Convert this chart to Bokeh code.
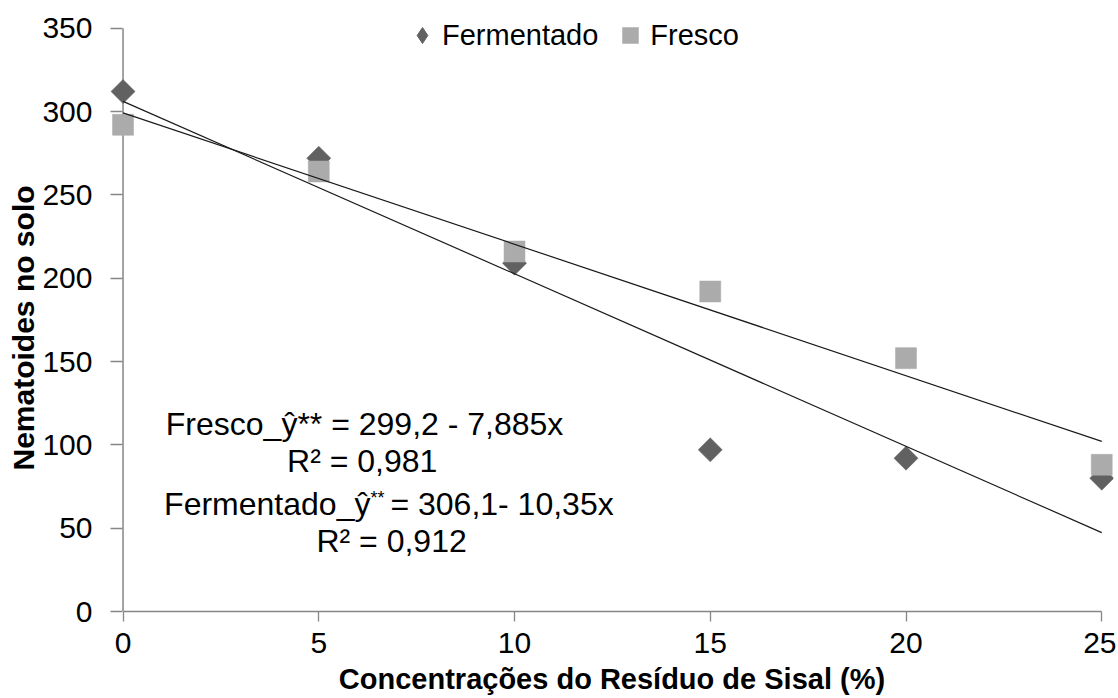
import math
from bokeh.plotting import figure
from bokeh.models import Range1d, FixedTicker, Legend, LegendItem, Label, Title
from bokeh.embed import file_html
from bokeh.resources import INLINE

# ---------------- data ----------------
concentracoes = [0, 5, 10, 15, 20, 25]
fermentado = [312, 272, 209, 97, 92, 80]
fresco = [292, 264, 216, 192, 152, 88]
x_ticks = [0, 5, 10, 15, 20, 25]
y_ticks = [0, 50, 100, 150, 200, 250, 300, 350]
series_names = ["Fermentado", "Fresco"]
fresco_fit = [299.2, -7.885]       # intercept, slope
fermentado_fit = [306.1, -10.35]   # intercept, slope
x_title = "Concentrações do Resíduo de Sisal (%)"
y_title = "Nematoides no solo"
eq_fresco = "Fresco_ŷ** = 299,2 - 7,885x"
r2_fresco = "R² = 0,981"
eq_ferm_a = "Fermentado_ŷ"
eq_ferm_sup = "**"
eq_ferm_b = "=  306,1- 10,35x"
r2_ferm = "R² = 0,912"

FONT = "Liberation Sans"
AXIS_GREY = "#868686"
DARK = "#616161"
LIGHT = "#ABABAB"

p = figure(width=1116, height=697, output_backend="svg", toolbar_location=None,
           x_range=Range1d(-0.32, 25.3), y_range=Range1d(0, 366),
           min_border_left=110, min_border_right=3, min_border_top=1,
           min_border_bottom=82)
p.outline_line_color = None
p.grid.visible = False
p.background_fill_color = "white"
p.border_fill_color = "white"

# ---------------- axes ----------------
xa = p.xaxis[0]
xa.ticker = FixedTicker(ticks=x_ticks, minor_ticks=[])
xa.bounds = (x_ticks[0], x_ticks[-1])
xa.axis_line_color = AXIS_GREY
xa.axis_line_width = 1.5
xa.major_tick_line_color = AXIS_GREY
xa.major_tick_line_width = 1.3
xa.major_tick_out = 10
xa.major_tick_in = 0
xa.minor_tick_line_color = None
xa.major_label_text_font = FONT
xa.major_label_text_font_size = "30px"
xa.major_label_text_color = "black"
xa.major_label_standoff = 11
xa.axis_label = x_title
xa.axis_label_text_font = FONT
xa.axis_label_text_font_style = "bold"
xa.axis_label_text_font_size = "29px"
xa.axis_label_text_color = "black"
xa.axis_label_standoff = 7

ya = p.yaxis[0]
ya.ticker = FixedTicker(ticks=y_ticks, minor_ticks=[])
ya.axis_line_color = None
ya.major_tick_line_color = AXIS_GREY
ya.major_tick_line_width = 1.3
ya.major_tick_out = 0
ya.major_tick_in = 12
ya.minor_tick_line_color = None
ya.major_label_text_font = FONT
ya.major_label_text_font_size = "30px"
ya.major_label_text_color = "black"
ya.major_label_standoff = 18

# y axis title, placed in the left panel beyond the tick labels
# (anchored at the bottom of the panel and lifted by `offset` pixels)
p.add_layout(Title(text=y_title, align="left", offset=141, standoff=0,
                   text_font=FONT, text_font_size="30px", text_font_style="bold",
                   text_color="black"), "left")

# vertical axis line at x = 0 (from 0 to the top tick)
p.line([x_ticks[0], x_ticks[0]], [y_ticks[0], y_ticks[-1]],
       line_color=AXIS_GREY, line_width=1.5)

# ---------------- marks ----------------
r_ferm = p.scatter(concentracoes, fermentado, marker="square", size=17,
                   angle=math.pi / 4, fill_color=DARK, line_color=DARK, line_width=0.5)
r_fres = p.scatter(concentracoes, fresco, marker="square", size=21,
                   fill_color=LIGHT, line_color=LIGHT, line_width=0.5)
# legend proxy (diamond shape, not drawn)
r_leg = p.scatter(concentracoes, fermentado, marker="diamond", fill_color=DARK,
                  line_color=DARK, visible=False)

x_line = [x_ticks[0], x_ticks[-1]]
p.line(x_line, [fresco_fit[0] + fresco_fit[1] * x for x in x_line],
       line_color="#1a1a1a", line_width=1.2)
p.line(x_line, [fermentado_fit[0] + fermentado_fit[1] * x for x in x_line],
       line_color="#1a1a1a", line_width=1.2)

# ---------------- legend ----------------
legend = Legend(items=[LegendItem(label=series_names[0], renderers=[r_leg]),
                       LegendItem(label=series_names[1], renderers=[r_fres])],
                location=(292, 556), orientation="horizontal",
                glyph_width=40, glyph_height=40, label_standoff=0, spacing=12,
                padding=0, margin=0, border_line_color=None,
                background_fill_alpha=0, label_text_font=FONT,
                label_text_font_size="29px", label_text_color="black")
p.add_layout(legend)

# ---------------- annotations ----------------
def lab(text, x, y, size="32px", align="center"):
    p.add_layout(Label(x=x, y=y, text=text, text_font=FONT, text_font_size=size,
                       text_align=align, text_baseline="middle",
                       text_color="black"))

lab(eq_fresco, 6.17, 112.4)
lab(r2_fresco, 6.11, 90.6)
lab(eq_ferm_a, 6.32, 64.5, align="right")
lab(eq_ferm_sup, 6.32, 68.0, size="18px", align="left")
lab(eq_ferm_b, 6.83, 64.5, align="left")
lab(r2_ferm, 6.86, 42.4)

open("out.html", "w").write(file_html(p, INLINE))
